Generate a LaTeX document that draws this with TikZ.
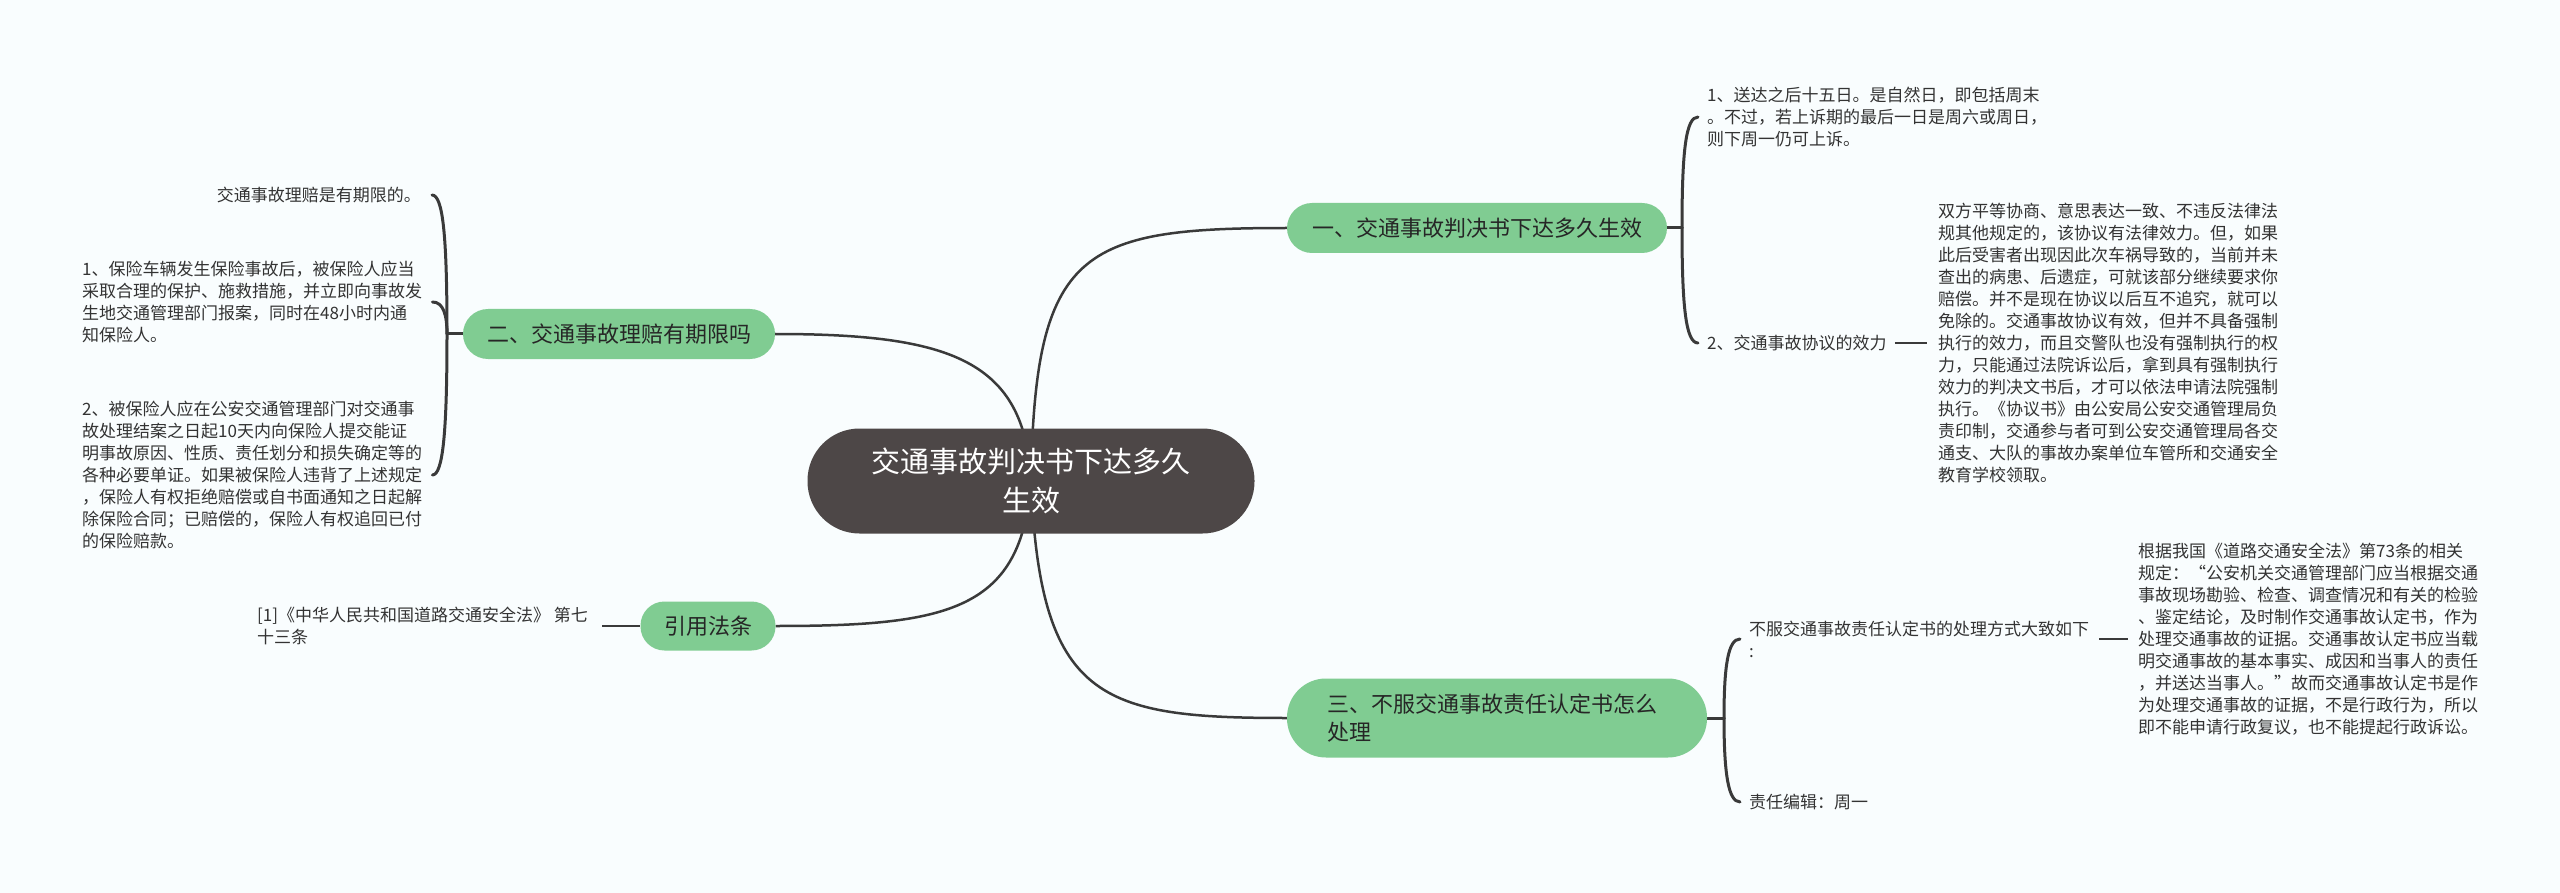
\documentclass[tikz,border=0pt]{standalone}
\usepackage{fontspec}
\setmainfont{Noto Sans CJK SC}
\definecolor{bgc}{HTML}{F9FDFE}
\definecolor{rootc}{HTML}{4D4747}
\definecolor{grn}{HTML}{80CC92}
\definecolor{ln}{HTML}{3A3A3A}
\definecolor{txt}{HTML}{333333}
\definecolor{btxt}{HTML}{262626}
\pgfdeclarelayer{back}
\pgfdeclarelayer{lines}
\pgfsetlayers{back,lines,main}
\begin{document}
\begin{tikzpicture}[x=1pt,y=-1pt,
  rootbox/.style={fill=rootc, text=white, font=\fontsize{29}{39}\selectfont, align=center, rounded corners=52pt, minimum width=447pt, minimum height=105pt},
  leaf/.style={inner sep=0pt, text=txt, font=\fontsize{17}{22}\selectfont, align=left},
  branch/.style={fill=grn, text=btxt, font=\fontsize{22}{28}\selectfont, rounded corners=25pt, minimum height=50pt, inner xsep=0pt},
  conn/.style={draw=ln, line width=2.5pt},
  brk/.style={draw=ln, line width=3pt, line cap=round}
]
\begin{pgfonlayer}{back}
\fill[bgc] (0,0) rectangle (2560,893);
\end{pgfonlayer}
\useasboundingbox (0,0) rectangle (2560,893);

% root and branches
\node[rootbox] (root) at (1031,481) {交通事故判决书下达多久\\生效};
\node[branch, minimum width=380pt] (b1) at (1477,228) {一、交通事故判决书下达多久生效};
\node[branch, minimum width=312pt] (b2) at (619,334) {二、交通事故理赔有期限吗};
\node[branch, minimum width=135pt, minimum height=49pt, rounded corners=24pt] (b4) at (708,626) {引用法条};
\node[branch, text width=340pt, inner xsep=40pt, align=left, minimum height=79pt, rounded corners=39pt] (b3) at (1497,718) {三、不服交通事故责任认定书怎么\\处理};

% leaves of branch 1
\node[leaf, anchor=west] (l11) at (1707,117) {1、送达之后十五日。是自然日，即包括周末\\。不过，若上诉期的最后一日是周六或周日，\\则下周一仍可上诉。};
\node[leaf, anchor=west] (l12) at (1707,343) {2、交通事故协议的效力};
\node[leaf, anchor=west] (l121) at (1938,343) {双方平等协商、意思表达一致、不违反法律法\\规其他规定的，该协议有法律效力。但，如果\\此后受害者出现因此次车祸导致的，当前并未\\查出的病患、后遗症，可就该部分继续要求你\\赔偿。并不是现在协议以后互不追究，就可以\\免除的。交通事故协议有效，但并不具备强制\\执行的效力，而且交警队也没有强制执行的权\\力，只能通过法院诉讼后，拿到具有强制执行\\效力的判决文书后，才可以依法申请法院强制\\执行。《协议书》由公安局公安交通管理局负\\责印制，交通参与者可到公安交通管理局各交\\通支、大队的事故办案单位车管所和交通安全\\教育学校领取。};

% leaves of branch 3
\node[leaf, anchor=west] (l31) at (1749,639) {不服交通事故责任认定书的处理方式大致如下\\:};
\node[leaf, anchor=west] (l32) at (1749,802) {责任编辑：周一};
\node[leaf, anchor=west] (l311) at (2138,639) {根据我国《道路交通安全法》第73条的相关\\规定：“公安机关交通管理部门应当根据交通\\事故现场勘验、检查、调查情况和有关的检验\\、鉴定结论，及时制作交通事故认定书，作为\\处理交通事故的证据。交通事故认定书应当载\\明交通事故的基本事实、成因和当事人的责任\\，并送达当事人。”故而交通事故认定书是作\\为处理交通事故的证据，不是行政行为，所以\\即不能申请行政复议，也不能提起行政诉讼。};

% leaves of branch 2
\node[leaf, anchor=east] (l21) at (421,195) {交通事故理赔是有期限的。};
\node[leaf, anchor=west] (l22) at (82,302) {1、保险车辆发生保险事故后，被保险人应当\\采取合理的保护、施救措施，并立即向事故发\\生地交通管理部门报案，同时在48小时内通\\知保险人。};
\node[leaf, anchor=west] (l23) at (82,475) {2、被保险人应在公安交通管理部门对交通事\\故处理结案之日起10天内向保险人提交能证\\明事故原因、性质、责任划分和损失确定等的\\各种必要单证。如果被保险人违背了上述规定\\，保险人有权拒绝赔偿或自书面通知之日起解\\除保险合同；已赔偿的，保险人有权追回已付\\的保险赔款。};

% leaf of branch 4
\node[leaf, anchor=west] (l41) at (257,626) {[1]《中华人民共和国道路交通安全法》 第七\\十三条};

\coordinate (j1) at (1682,228);
\coordinate (j2) at (447,334);
\coordinate (j3) at (1724,718);

\begin{pgfonlayer}{lines}
% root connectors
\draw[conn] (root.center) .. controls (1035,250) and (1080,228) .. (b1.west);
\draw[conn] (root.center) .. controls (1025,360) and (950,334) .. (b2.east);
\draw[conn] (root.center) .. controls (1022,610) and (950,626) .. (b4.east);
\draw[conn] (root.center) .. controls (1040,700) and (1100,718) .. (b3.west);
% branch 1
\draw[brk] (b1.east) -- (j1);
\draw[brk] (j1) .. controls (1682,150) and (1686,117) .. ([xshift=-9pt]l11.west);
\draw[brk] (j1) .. controls (1682,308) and (1686,343) .. ([xshift=-9pt]l12.west);
\draw[conn] ([xshift=8pt]l12.east) -- ([xshift=-11pt]l121.west);
% branch 3
\draw[brk] (b3.east) -- (j3);
\draw[brk] (j3) .. controls (1724,666) and (1728,639) .. ([xshift=-9pt]l31.west);
\draw[brk] (j3) .. controls (1724,772) and (1728,802) .. ([xshift=-9pt]l32.west);
\draw[conn] ([xshift=10pt]l31.east) -- ([xshift=-10pt]l311.west);
% branch 2
\draw[brk] (b2.west) -- (j2);
\draw[brk] (j2) .. controls (447,236) and (443,195) .. ([xshift=11pt]l21.east);
\draw[brk] (j2) .. controls (447,314) and (443,302) .. ([xshift=10pt]l22.east);
\draw[brk] (j2) .. controls (447,432) and (443,475) .. ([xshift=10pt]l23.east);
% branch 4
\draw[conn] ([xshift=14pt]l41.east) -- (b4.west);
\end{pgfonlayer}
\end{tikzpicture}
\end{document}
